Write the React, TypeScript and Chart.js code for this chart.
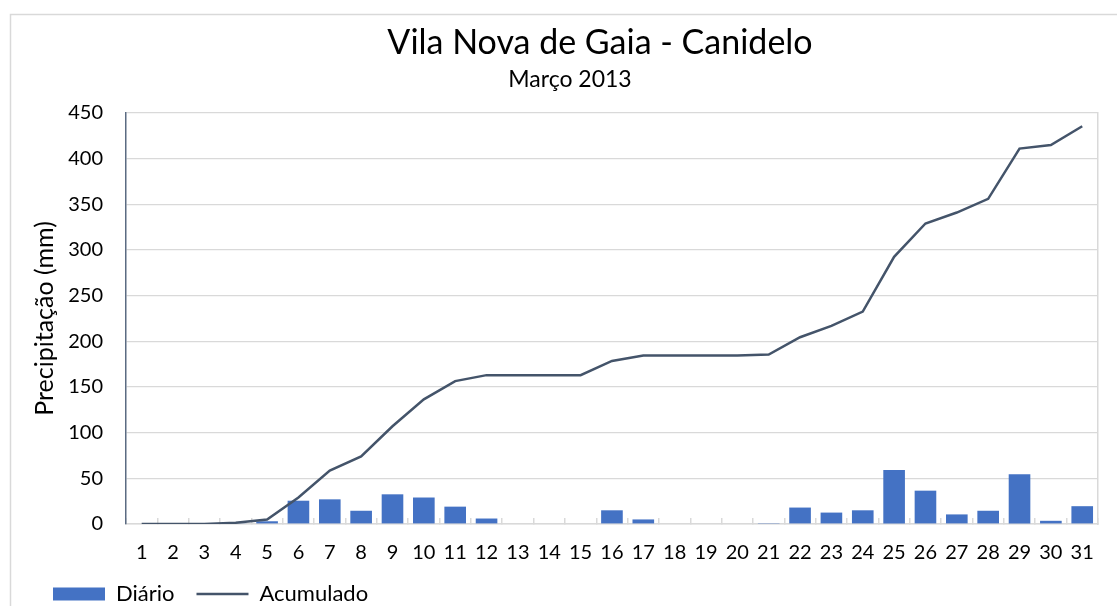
import React, { useEffect, useRef } from 'react';
import { Chart, registerables } from 'chart.js';

Chart.register(...registerables);

const TITLE = 'Vila Nova de Gaia - Canidelo';
const SUBTITLE = 'Março 2013';
const Y_TITLE = 'Precipitação (mm)';
const SERIES_NAMES = ['Diário', 'Acumulado'];

const days = ['1','2','3','4','5','6','7','8','9','10','11','12','13','14','15','16','17','18','19','20','21','22','23','24','25','26','27','28','29','30','31'];

const diario = [0, 0, 0, 0.5, 3, 25.5, 27, 14.5, 32.5, 29, 19, 6, 0, 0, 0, 15, 5, 0, 0, 0, 1, 18, 12.5, 15, 59, 36.5, 10.5, 14.5, 54.5, 3.5, 19.5];

const acumulado = [0, 0, 0, 1.5, 5, 29, 58.5, 74, 107, 136.5, 156.5, 163, 163, 163, 163, 178.5, 184.5, 184.5, 184.5, 184.5, 185.5, 204.5, 217, 232.5, 292.5, 329, 341, 356, 411, 415, 435.5];

const Y_MIN = 0;
const Y_MAX = 450;
const Y_STEP = 50;

const FONT = 'Lato';

const framePlugin = {
  id: 'frame',
  beforeDraw(chart: any) {
    const ctx = chart.ctx;
    ctx.save();
    ctx.fillStyle = '#ffffff';
    ctx.fillRect(0, 0, chart.width, chart.height);
    ctx.strokeStyle = '#d9d9d9';
    ctx.lineWidth = 1.5;
    ctx.strokeRect(10.5, 14.5, chart.width + 20, chart.height + 20);
    ctx.fillStyle = '#000000';
    ctx.textAlign = 'center';
    ctx.textBaseline = 'alphabetic';
    ctx.font = `34px ${FONT}`;
    ctx.fillText(TITLE, 600, 54);
    ctx.font = `23px ${FONT}`;
    ctx.fillText(SUBTITLE, 570, 87);
    ctx.restore();
  },
};

export default function App() {
  const canvasRef = useRef<HTMLCanvasElement | null>(null);

  useEffect(() => {
    const canvas = canvasRef.current;
    if (!canvas) return;
    const chart = new Chart(canvas, {
      type: 'bar',
      data: {
        labels: days,
        datasets: [
          {
            type: 'bar',
            label: SERIES_NAMES[0],
            data: diario,
            backgroundColor: '#4472C4',
            borderColor: '#4472C4',
            borderWidth: 0,
            barPercentage: 0.69,
            categoryPercentage: 1,
            order: 1,
          } as any,
          {
            type: 'line',
            label: SERIES_NAMES[1],
            data: acumulado,
            borderColor: '#44546A',
            backgroundColor: '#44546A',
            borderWidth: 2.5,
            pointRadius: 0,
            pointHoverRadius: 0,
            tension: 0,
            fill: false,
            order: 0,
          } as any,
        ],
      },
      options: {
        responsive: false,
        animation: false,
        devicePixelRatio: 1,
        layout: { padding: { top: 113, right: 11, bottom: 0, left: 31 } },
        plugins: {
          title: { display: false },
          tooltip: { enabled: false },
          legend: {
            display: true,
            position: 'bottom',
            align: 'start',
            maxHeight: 45,
            labels: {
              usePointStyle: true,
              pointStyleWidth: 52,
              boxHeight: 13,
              padding: 22,
              color: '#000000',
              font: { family: FONT, size: 22 },
              sort: (a: any, b: any) => a.datasetIndex - b.datasetIndex,
              generateLabels: (chart: any) => {
                const items = Chart.defaults.plugins.legend.labels.generateLabels(chart);
                return items.map((it: any) => ({
                  ...it,
                  pointStyle: it.datasetIndex === 0 ? 'rect' : 'line',
                  lineWidth: it.datasetIndex === 0 ? 0 : 2.5,
                }));
              },
            },
          },
        },
        scales: {
          x: {
            offset: true,
            grid: {
              display: true,
              offset: true,
              drawOnChartArea: false,
              drawTicks: true,
              tickLength: -6,
              color: '#d9d9d9',
              lineWidth: 1.5,
            },
            border: { display: true, color: '#d9d9d9', width: 1.5 },
            ticks: {
              autoSkip: false,
              maxRotation: 0,
              minRotation: 0,
              padding: 23,
              color: '#000000',
              font: { family: FONT, size: 20 },
            },
            afterFit: (scale: any) => {
              scale.height = 37;
            },
          },
          y: {
            min: Y_MIN,
            max: Y_MAX,
            position: 'left',
            grid: {
              color: '#d9d9d9',
              lineWidth: 1.2,
              drawTicks: false,
            },
            border: { display: true, color: '#5b6b82', width: 1.5 },
            ticks: {
              stepSize: Y_STEP,
              padding: 23,
              color: '#000000',
              font: { family: FONT, size: 20 },
            },
            title: {
              display: true,
              text: Y_TITLE,
              color: '#000000',
              font: { family: FONT, size: 25 },
              padding: { top: -1, bottom: 0 },
            },
            afterFit: (scale: any) => {
              scale.width = 95;
            },
          },
          y2: {
            position: 'right',
            min: Y_MIN,
            max: Y_MAX,
            grid: { drawOnChartArea: false, drawTicks: false },
            border: { display: true, color: '#d9d9d9', width: 1.5 },
            ticks: { display: false },
            afterFit: (scale: any) => {
              scale.width = 0;
            },
          },
        },
      },
      plugins: [framePlugin],
    } as any);
    return () => chart.destroy();
  }, []);

  return (
    <div style={{ position: 'fixed', left: 0, top: 0, width: 1117, height: 606, background: '#fff' }}>
      <canvas ref={canvasRef} width={1117} height={606} style={{ display: 'block', width: 1117, height: 606 }} />
    </div>
  );
}
